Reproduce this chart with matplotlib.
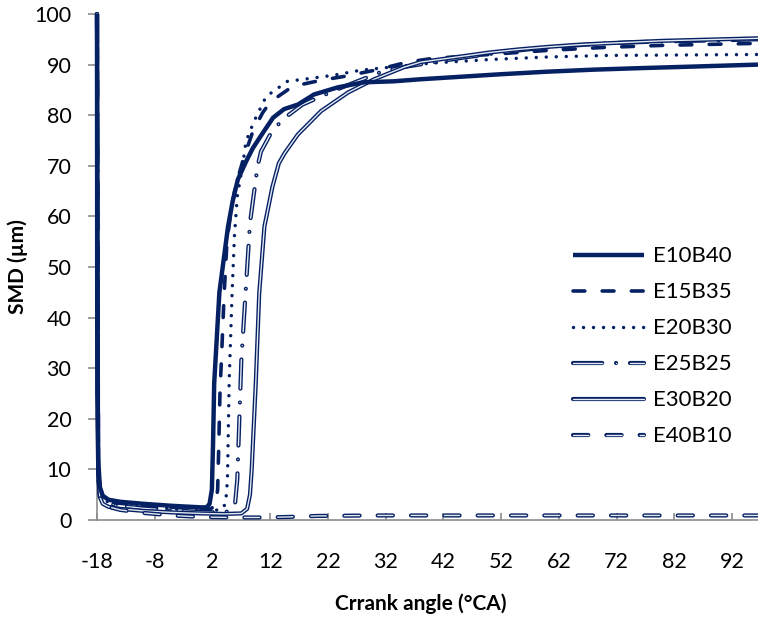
import matplotlib
matplotlib.use("Agg")
import matplotlib.pyplot as plt
import matplotlib.patheffects as pe

plt.rcParams['font.family'] = ['Lato', 'DejaVu Sans']
plt.rcParams['lines.scale_dashes'] = False
plt.rcParams['axes.unicode_minus'] = False

# data
x_e10b40 = [-18, -17.95, -17.8, -17.5, -17, -16, -14, -10, -5, 0, 1.0, 1.5, 1.9, 2.1, 2.3, 3.2, 4.7, 5.5, 6.4,
            7.8, 9, 10.9, 12.5, 14.4, 16.8, 19.6, 23.7, 28.2, 33.4, 38, 45, 52, 60, 68, 76, 85, 96.5]
y_e10b40 = [100, 25, 12, 6.5, 4.8, 4.0, 3.6, 3.2, 2.8, 2.5, 2.5, 3.2, 6, 15, 27, 45, 58, 63, 67.3,
            70.8, 73.5, 76.8, 79.5, 81.2, 82.1, 84.1, 85.5, 86.5, 86.7, 87.1, 87.6, 88.1, 88.6, 89.0, 89.3, 89.6, 90.0]

x_e15b35 = [-18, -17.8, -17.5, -17, -16, -14, -10, -5, 0, 1.5, 2.5, 2.9, 3.1, 3.3, 3.6, 4.0, 4.5, 5.2, 6.0,
            7.4, 9.0, 10.7, 12.1, 15.9, 20.8, 25, 30.6, 35.8, 40, 45, 50, 60, 70, 80, 96.5]
y_e15b35 = [100, 12, 6, 4.5, 3.8, 3.3, 2.9, 2.5, 2.2, 2.1, 2.8, 6, 15, 25, 33, 44, 54.8, 61, 66,
            71.5, 76.8, 80.5, 82.7, 85.7, 86.9, 87.7, 89.0, 90.5, 91.2, 91.6, 92.0, 92.8, 93.4, 93.8, 94.2]

x_e20b30 = [-18, -17.8, -17.5, -17, -16, -14, -10, -5, 0, 2, 3.8, 4.3, 4.6, 4.9, 5.4, 5.8, 6.3, 7.3,
            7.8, 9.2, 11.3, 15, 17.8, 23, 27.7, 32.9, 40, 50, 60, 70, 96.5]
y_e20b30 = [100, 11, 5.5, 4.2, 3.5, 3.0, 2.6, 2.2, 1.9, 1.8, 2.2, 3.5, 8, 27.6, 44.8, 56, 64, 70.6,
            74.8, 78.8, 83.7, 86.7, 87.1, 87.9, 88.9, 89.5, 90.3, 91.0, 91.5, 91.8, 92.0]

x_e25b25 = [-18, -17.8, -17.5, -17, -16, -14, -10, -5, 0, 3, 5.0, 5.9, 6.3, 6.6, 7.0, 7.8, 8.5, 9.8,
            10.4, 12.2, 14.2, 17.6, 20.8, 23.6, 27.1, 31.1, 35, 40, 45, 50, 55, 60, 65, 70, 80, 90, 96.5]
y_e25b25 = [100, 10, 5, 3.8, 3.2, 2.8, 2.3, 1.9, 1.6, 1.5, 1.7, 3, 8, 18, 31.5, 46, 58.7, 69.8,
            72.8, 76.6, 79.2, 82.1, 83.7, 85.1, 86.7, 88.5, 89.5, 90.4, 91.3, 92.1, 92.8, 93.4, 93.8, 94.2, 94.6, 94.8, 95.0]

x_e30b20 = [-18, -17.8, -17.5, -17, -16, -14, -10, -5, 0, 4, 7, 8.0, 8.5, 8.8, 9.5, 10.1, 11, 12.4,
            13.5, 14.5, 16.8, 20.8, 25.5, 30, 35.2, 38.1, 45, 50, 55, 60, 65, 70, 80, 90, 96.5]
y_e30b20 = [100, 9, 4.5, 3.2, 2.6, 2.2, 1.8, 1.5, 1.3, 1.2, 1.3, 2.2, 5, 10, 27, 44.8, 58, 65.9,
            70.5, 72.5, 76.2, 80.8, 84.5, 87.1, 89.5, 90.5, 91.6, 92.4, 93.0, 93.5, 93.9, 94.2, 94.7, 95.0, 95.2]

x_e40b10 = [-18, -17.8, -17.5, -17, -16, -14, -10, -5, 0, 5, 10, 15, 20, 30, 50, 70, 96.5]
y_e40b10 = [100, 9, 4.5, 3.3, 2.6, 2.0, 1.4, 0.9, 0.6, 0.5, 0.5, 0.6, 0.8, 0.9, 0.9, 0.9, 0.9]

x_ticks = [-18, -8, 2, 12, 22, 32, 42, 52, 62, 72, 82, 92]
y_ticks = [0, 10, 20, 30, 40, 50, 60, 70, 80, 90, 100]

navy = '#062163'
inner = '#e4e9f4'
grey = '#8c8c8c'

fig = plt.figure(figsize=(7.58, 6.26), dpi=100)
ax = fig.add_axes([97 / 758, 106 / 626, 661 / 758, 506 / 626])


def double(w):
    return [pe.Stroke(linewidth=w, foreground=navy), pe.Normal()]


ax.plot(x_e15b35, y_e15b35, color=navy, lw=2.6, dashes=(8.5, 12.5), dash_capstyle='round',
        clip_on=False, zorder=3, label='E15B35')
ax.plot(x_e20b30, y_e20b30, color=navy, lw=2.5, dashes=(0.01, 7.2), dash_capstyle='round',
        clip_on=False, zorder=3, label='E20B30')
ax.plot(x_e25b25, y_e25b25, color=inner, lw=1.0, dashes=(21, 10, 0.01, 10), dash_capstyle='round',
        path_effects=double(3.0), clip_on=False, zorder=3, label='E25B25')
ax.plot(x_e30b20, y_e30b20, color=inner, lw=1.0, solid_capstyle='round',
        path_effects=double(3.0), clip_on=False, zorder=3, label='E30B20')
ax.plot(x_e40b10, y_e40b10, color=inner, lw=1.0, dashes=(11, 13), dash_capstyle='round',
        path_effects=double(3.0), clip_on=False, zorder=3, label='E40B10')
# solid one drawn last so the thick wall at -18 stays on top
ax.plot(x_e10b40, y_e10b40, color=navy, lw=3.2, solid_capstyle='butt', clip_on=False,
        zorder=4, label='E10B40')

ax.set_xlim(-18, 96.5)
ax.set_ylim(0, 100)
ax.set_xticks(x_ticks)
ax.set_yticks(y_ticks)

for s in ['top', 'right']:
    ax.spines[s].set_visible(False)
for s in ['left', 'bottom']:
    ax.spines[s].set_color(grey)
    ax.spines[s].set_linewidth(1.2)

ax.tick_params(axis='y', direction='out', length=6.5, width=1.2, color=grey, pad=12, labelsize=15.5)
ax.tick_params(axis='x', direction='in', length=5, width=1.2, color=grey, pad=23, labelsize=15.5)

fig.text(18 / 758, 1 - 267 / 626, 'SMD (µm)', rotation=90, ha='center', va='center',
         fontsize=15, fontweight='bold')
fig.text(421 / 758, 1 - 604 / 626, 'Crrank angle (°CA)', ha='center', va='center',
         fontsize=15, fontweight='bold')

# legend in the original series order
handles, labels = ax.get_legend_handles_labels()
order = ['E10B40', 'E15B35', 'E20B30', 'E25B25', 'E30B20', 'E40B10']
hmap = dict(zip(labels, handles))
fig.legend([hmap[k] for k in order], order, loc='center left',
           bbox_to_anchor=(573 / 758, 1 - 346.5 / 626), frameon=False,
           fontsize=16, handlelength=3.2, handletextpad=0.4, labelspacing=0.72,
           borderpad=0, borderaxespad=0)

fig.savefig('out.png', dpi=100)
